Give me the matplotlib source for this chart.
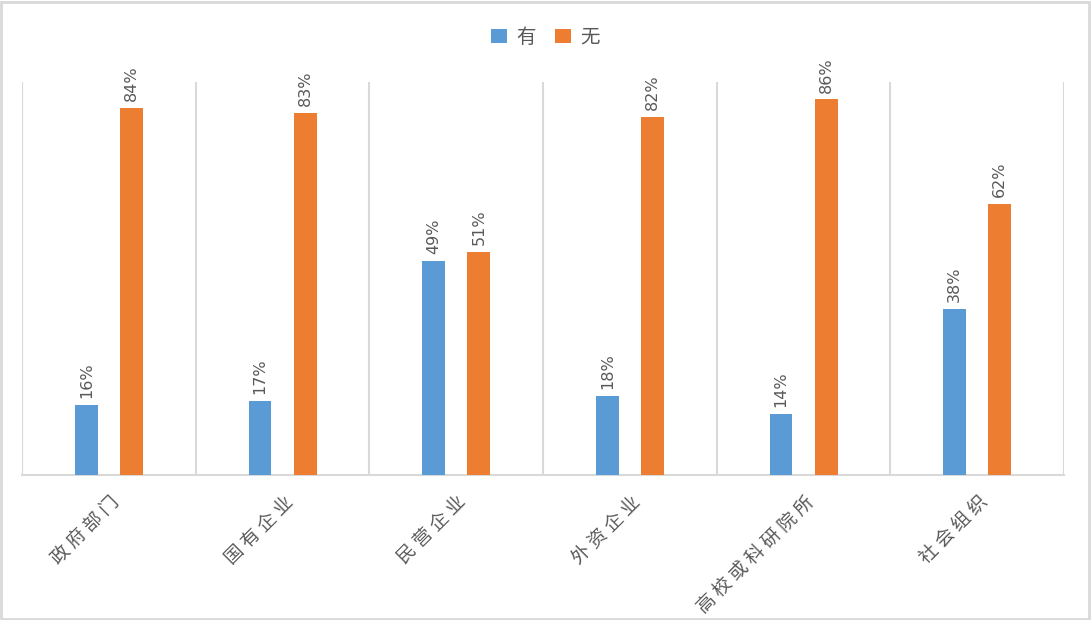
import matplotlib.pyplot as plt
from matplotlib.patches import Rectangle
import numpy as np

plt.rcParams['font.family'] = ['Noto Sans CJK SC', 'DejaVu Sans']

categories = ['政府部门', '国有企业', '民营企业', '外资企业', '高校或科研院所', '社会组织']
you = [16, 17, 49, 18, 14, 38]
wu = [84, 83, 51, 82, 86, 62]
series_names = ['有', '无']

blue = '#5B9BD5'
orange = '#ED7D31'
grid_c = '#D9D9D9'
text_c = '#595959'

fig = plt.figure(figsize=(10.91, 6.2), dpi=100)
ax = fig.add_axes([0.0202, 0.2339, 0.9551, 0.6338])

x = np.arange(len(categories))
w = 0.132
off = 0.13
b1 = ax.bar(x - off, you, w, color=blue, label=series_names[0], zorder=3)
b2 = ax.bar(x + off, wu, w, color=orange, label=series_names[1], zorder=3)

for bars in (b1, b2):
    for rect in bars:
        h = rect.get_height()
        ax.annotate(f'{h:.0f}%', (rect.get_x() + rect.get_width() / 2, h),
                    xytext=(0, 5), textcoords='offset points',
                    rotation=90, ha='center', va='bottom',
                    fontsize=11.5, color=text_c, family=['DejaVu Sans'])

ax.set_xlim(-0.5, len(categories) - 0.5)
ax.set_ylim(0, 90)
ax.set_yticks([])
for b in np.arange(-0.5, len(categories), 1.0):
    ax.axvline(b, color=grid_c, lw=1.5, zorder=1)
for s in ['top', 'right', 'left']:
    ax.spines[s].set_visible(False)
ax.spines['bottom'].set_color(grid_c)
ax.spines['bottom'].set_linewidth(1.5)

# excel spreads the characters out a bit
ax.set_xticks(x)
ax.set_xticklabels([' '.join(c) for c in categories], rotation=45, ha='right',
                   rotation_mode='anchor', fontsize=13.5, color=text_c)
ax.tick_params(axis='x', length=0, pad=12)

leg = fig.legend(loc='upper center', bbox_to_anchor=(0.5, 0.985), ncol=2,
                 frameon=False, fontsize=14, handlelength=0.8, handleheight=0.8,
                 handletextpad=0.5, columnspacing=1.0)
for t in leg.get_texts():
    t.set_color(text_c)

fig.patches.append(Rectangle((0.001, 0.002), 0.997, 0.995, transform=fig.transFigure,
                             fill=False, edgecolor=grid_c, lw=2))

fig.savefig('out.png', dpi=100)
